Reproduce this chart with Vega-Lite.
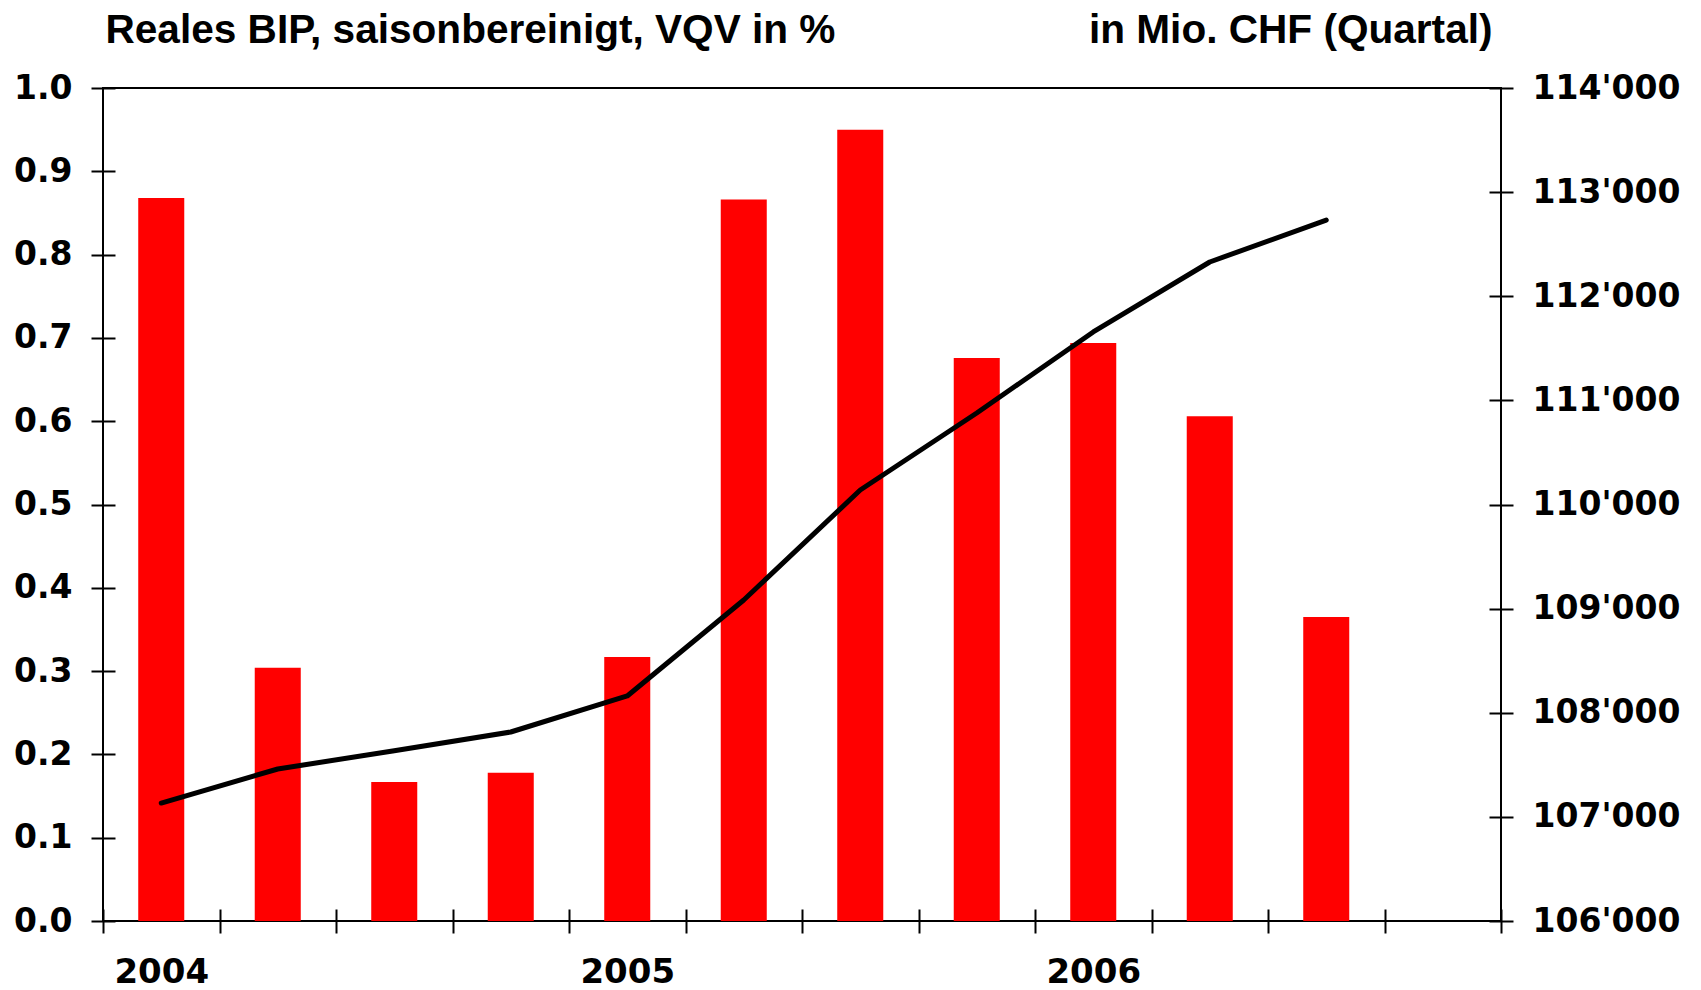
{
  "$schema": "https://vega.github.io/schema/vega-lite/v6.json",
  "width": 1398,
  "height": 833,
  "autosize": "none",
  "padding": {"left": 103, "top": 88, "right": 200, "bottom": 69},
  "background": "white",
  "config": {
    "view": {"stroke": "black", "strokeWidth": 2},
    "axis": {
      "grid": false,
      "labelFont": "DejaVu Sans",
      "labelFontWeight": "bold",
      "labelFontSize": 33,
      "labelColor": "black",
      "tickColor": "black",
      "tickWidth": 2,
      "domain": false,
      "titleFont": "Liberation Sans",
      "titleFontWeight": "bold",
      "titleFontSize": 40.6,
      "titleColor": "black",
      "zindex": 1
    }
  },
  "data": {
    "values": [
      {"q": "2004 Q1", "pct": 0.868, "bip": 107133},
      {"q": "2004 Q2", "pct": 0.304, "bip": 107460},
      {"q": "2004 Q3", "pct": 0.167, "bip": 107635},
      {"q": "2004 Q4", "pct": 0.178, "bip": 107815},
      {"q": "2005 Q1", "pct": 0.317, "bip": 108161},
      {"q": "2005 Q2", "pct": 0.866, "bip": 109083},
      {"q": "2005 Q3", "pct": 0.950, "bip": 110139},
      {"q": "2005 Q4", "pct": 0.676, "bip": 110879},
      {"q": "2006 Q1", "pct": 0.694, "bip": 111657},
      {"q": "2006 Q2", "pct": 0.606, "bip": 112329},
      {"q": "2006 Q3", "pct": 0.365, "bip": 112732}
    ]
  },
  "encoding": {
    "x": {
      "field": "q",
      "type": "ordinal",
      "scale": {
        "type": "band",
        "domain": ["2004 Q1", "2004 Q2", "2004 Q3", "2004 Q4", "2005 Q1", "2005 Q2", "2005 Q3", "2005 Q4", "2006 Q1", "2006 Q2", "2006 Q3", "2006 Q4"],
        "paddingInner": 0,
        "paddingOuter": 0
      },
      "axis": {
        "title": null,
        "orient": "bottom",
        "offset": -12,
        "tickSize": 24,
        "tickBand": "extent",
        "labelPadding": 22,
        "labelAngle": 0,
        "labelOverlap": false,
        "labelFontSize": 34,
        "labelExpr": "datum.value == '2004 Q1' ? '2004' : datum.value == '2005 Q1' ? '2005' : datum.value == '2006 Q1' ? '2006' : ''"
      }
    }
  },
  "layer": [
    {
      "mark": {"type": "bar", "color": "#ff0000", "width": {"band": 0.395}},
      "encoding": {
        "y": {
          "field": "pct",
          "type": "quantitative",
          "scale": {"domain": [0, 1], "nice": false, "zero": true},
          "axis": {
            "orient": "left",
            "offset": -12,
            "tickSize": 24,
            "labelPadding": 19,
            "values": [0, 0.1, 0.2, 0.3, 0.4, 0.5, 0.6, 0.7, 0.8, 0.9, 1.0],
            "format": ".1f",
            "title": "Reales BIP, saisonbereinigt, VQV in %",
            "titleAngle": 0,
            "titleAlign": "left",
            "titleBaseline": "alphabetic",
            "titleX": -10,
            "titleY": -46
          }
        }
      }
    },
    {
      "mark": {"type": "line", "color": "black", "strokeWidth": 5, "strokeCap": "round", "strokeJoin": "round"},
      "encoding": {
        "y": {
          "field": "bip",
          "type": "quantitative",
          "scale": {"domain": [106000, 114000], "nice": false, "zero": false},
          "axis": {
            "orient": "right",
            "offset": -12,
            "tickSize": 24,
            "labelPadding": 19,
            "values": [106000, 107000, 108000, 109000, 110000, 111000, 112000, 113000, 114000],
            "labelExpr": "replace(format(datum.value, ','), ',', \"'\")",
            "title": "in Mio. CHF (Quartal)",
            "titleAngle": 0,
            "titleAlign": "right",
            "titleBaseline": "alphabetic",
            "titleX": 3,
            "titleY": -46
          }
        }
      }
    }
  ],
  "resolve": {"scale": {"y": "independent"}, "axis": {"y": "independent"}}
}
